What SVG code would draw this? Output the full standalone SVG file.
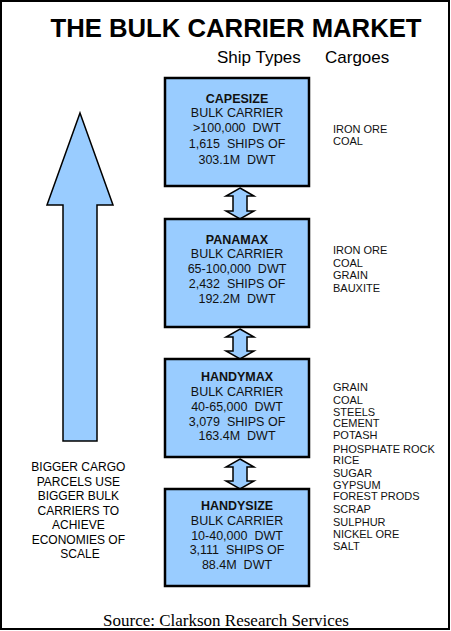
<svg xmlns="http://www.w3.org/2000/svg" width="451" height="631" viewBox="0 0 451 631">
<style>
.bg{fill:#fff;stroke:#000;stroke-width:2}
.box{fill:#99ccff;stroke:#000;stroke-width:2.5}
.arr{fill:#99ccff;stroke:#000;stroke-width:1.5;stroke-linejoin:miter}
.t{font-family:"Liberation Sans",Arial,sans-serif;fill:#000}
.bt{font-family:"Liberation Sans",Arial,sans-serif;font-size:12.5px;fill:#111;text-anchor:middle;white-space:pre}
.bh{font-weight:bold}
.cg{font-family:"Liberation Sans",Arial,sans-serif;font-size:11px;fill:#111}
</style>
<rect class="bg" x="1" y="1" width="448" height="628"/>
<text class="t" x="236" y="37" font-size="25.7" font-weight="bold" text-anchor="middle">THE BULK CARRIER MARKET</text>
<text class="t" x="217" y="63" font-size="17">Ship Types</text>
<text class="t" x="325" y="63" font-size="17">Cargoes</text>

<g id="bigArrow">
<path class="arr" d="M80,113 L113,205 L97,205 L97,441 L63,441 L63,205 L47,205 Z"/>
</g>
<g id="note">
<text class="t" font-size="12" text-anchor="middle" fill="#111">
<tspan x="80" y="471">BIGGER CARGO</tspan>
<tspan x="80" y="486">PARCELS USE</tspan>
<tspan x="80" y="500">BIGGER BULK</tspan>
<tspan x="80" y="515">CARRIERS TO</tspan>
<tspan x="80" y="529">ACHIEVE</tspan>
<tspan x="80" y="544">ECONOMIES OF</tspan>
<tspan x="80" y="558">SCALE</tspan>
</text>
</g>

<g id="connectors">
<path class="arr" d="M240,188 L254,196 L247,196 L247,211 L254,211 L240,219 L226,211 L233,211 L233,196 L226,196 Z"/>
<path class="arr" d="M240,329 L254,337 L247,337 L247,351 L254,351 L240,359 L226,351 L233,351 L233,337 L226,337 Z"/>
<path class="arr" d="M240,459 L254,467 L247,467 L247,481 L254,481 L240,489 L226,481 L233,481 L233,467 L226,467 Z"/>
</g>

<g id="capesize">
<rect class="box" x="165" y="78" width="144" height="108"/>
<text class="bt bh" x="237" y="103">CAPESIZE</text>
<text class="bt" x="237" y="117">BULK CARRIER</text>
<text class="bt" x="237" y="132">&gt;100,000  DWT</text>
<text class="bt" x="237" y="148">1,615  SHIPS OF</text>
<text class="bt" x="237" y="164">303.1M  DWT</text>
</g>
<g id="capesizeCargo">
<text class="cg"><tspan x="333" y="133">IRON ORE</tspan><tspan x="333" y="145">COAL</tspan></text>
</g>

<g id="panamax">
<rect class="box" x="165" y="219" width="144" height="108"/>
<text class="bt bh" x="237" y="244">PANAMAX</text>
<text class="bt" x="237" y="258">BULK CARRIER</text>
<text class="bt" x="237" y="273">65-100,000  DWT</text>
<text class="bt" x="237" y="288">2,432  SHIPS OF</text>
<text class="bt" x="237" y="303">192.2M  DWT</text>
</g>
<g id="panamaxCargo">
<text class="cg"><tspan x="333" y="254">IRON ORE</tspan><tspan x="333" y="267">COAL</tspan><tspan x="333" y="279">GRAIN</tspan><tspan x="333" y="292">BAUXITE</tspan></text>
</g>

<g id="handymax">
<rect class="box" x="165" y="359" width="144" height="98"/>
<text class="bt bh" x="237" y="381">HANDYMAX</text>
<text class="bt" x="237" y="396">BULK CARRIER</text>
<text class="bt" x="237" y="411">40-65,000  DWT</text>
<text class="bt" x="237" y="426">3,079  SHIPS OF</text>
<text class="bt" x="237" y="440">163.4M  DWT</text>
</g>
<g id="handymaxCargo">
<text class="cg">
<tspan x="333" y="391">GRAIN</tspan>
<tspan x="333" y="404">COAL</tspan>
<tspan x="333" y="416">STEELS</tspan>
<tspan x="333" y="427">CEMENT</tspan>
<tspan x="333" y="439">POTASH</tspan>
<tspan x="333" y="453">PHOSPHATE ROCK</tspan>
<tspan x="333" y="464">RICE</tspan>
<tspan x="333" y="477">SUGAR</tspan>
<tspan x="333" y="489">GYPSUM</tspan>
<tspan x="333" y="500">FOREST PRODS</tspan>
<tspan x="333" y="513">SCRAP</tspan>
<tspan x="333" y="526">SULPHUR</tspan>
<tspan x="333" y="538">NICKEL ORE</tspan>
<tspan x="333" y="550">SALT</tspan>
</text>
</g>

<g id="handysize">
<rect class="box" x="165" y="489" width="144" height="97"/>
<text class="bt bh" x="237" y="510">HANDYSIZE</text>
<text class="bt" x="237" y="525">BULK CARRIER</text>
<text class="bt" x="237" y="540">10-40,000  DWT</text>
<text class="bt" x="237" y="554">3,111  SHIPS OF</text>
<text class="bt" x="237" y="569">88.4M  DWT</text>
</g>

<text x="226" y="626" font-family="'Liberation Serif','Times New Roman',serif" font-size="17" text-anchor="middle" fill="#000">Source: Clarkson Research Services</text>
</svg>
